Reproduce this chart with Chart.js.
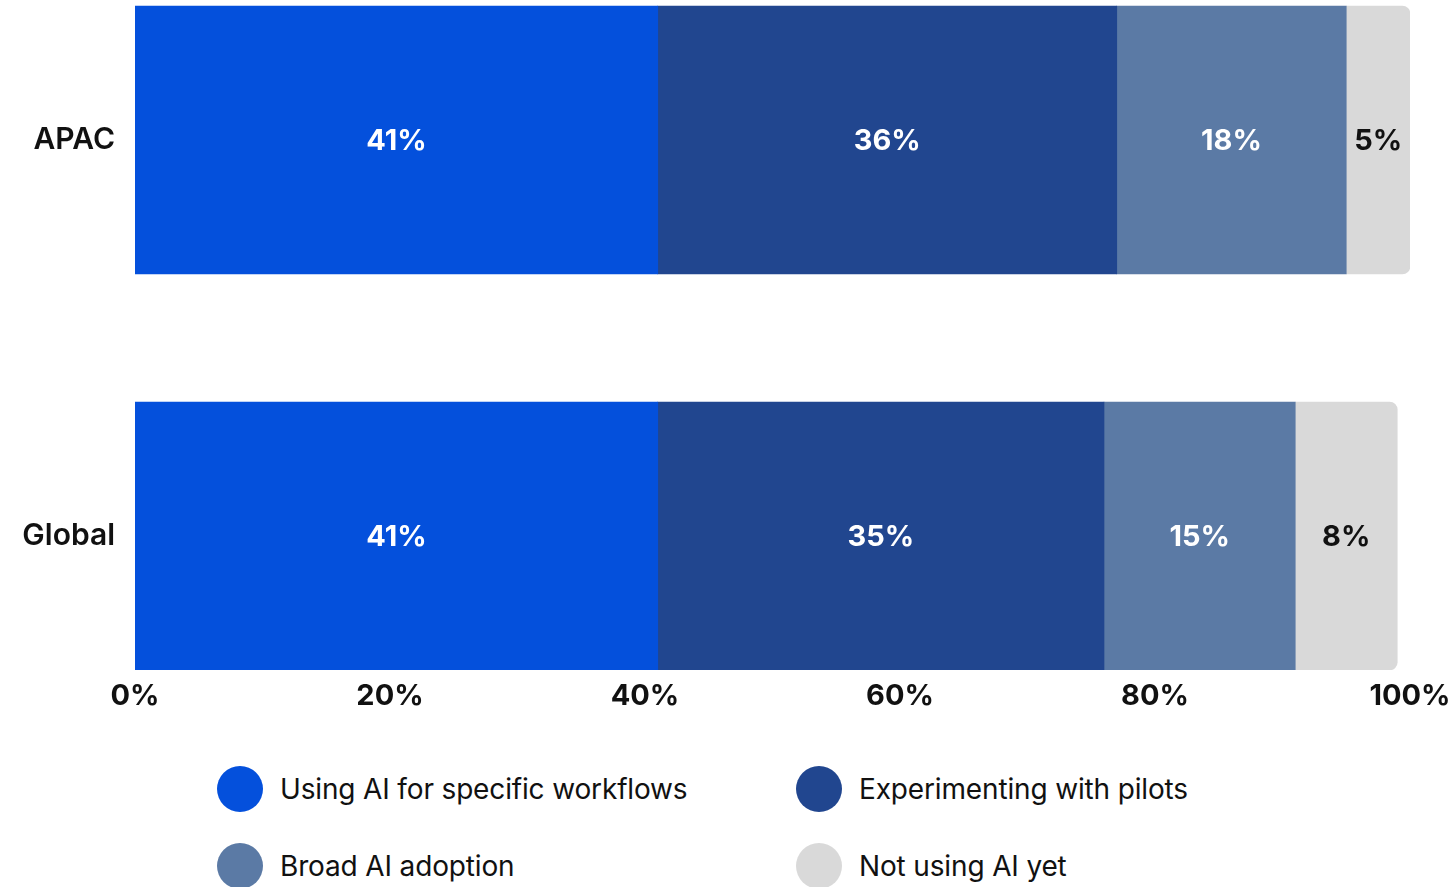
<!DOCTYPE html>
<html>
<head>
<meta charset="utf-8">
<script src="https://cdn.jsdelivr.net/npm/chart.js@4"></script>
<style>
  html, body { margin: 0; padding: 0; background: #fff; overflow: hidden; }
  #wrap { position: relative; width: 1449px; height: 740px; }
  #legend { position: absolute; left: 217px; top: 766px; display: grid; grid-template-columns: 579px 579px; row-gap: 31px; font-family: Inter, sans-serif; font-size: 28px; letter-spacing: -0.15px; color: #111; }
  .item { display: flex; align-items: center; height: 46px; }
  .dot { width: 46px; height: 46px; border-radius: 50%; margin-right: 17px; flex: none; }
</style>
</head>
<body>
<div id="wrap"><canvas id="chart"></canvas></div>
<div id="legend"></div>
<script>
const regions = ["APAC", "Global"];
const seriesNames = ["Using AI for specific workflows", "Experimenting with pilots", "Broad AI adoption", "Not using AI yet"];
const specificWorkflows = [41, 41];
const pilots = [36, 35];
const broadAdoption = [18, 15];
const notUsing = [5, 8];
const xTicks = [0, 20, 40, 60, 80, 100];

const colors = ["#0450DC", "#21468F", "#5B7AA5", "#D9D9D9"];
const labelColors = ["#fff", "#fff", "#fff", "#111"];
const seriesValues = [specificWorkflows, pilots, broadAdoption, notUsing];

// bar centres at 140px and 536px, chart area 0..670px
const Y_MIN = -140 / 396;
const Y_MAX = 1 + 134 / 396;

const barLabels = {
  id: "barLabels",
  afterDatasetsDraw(chart) {
    const ctx = chart.ctx;
    ctx.save();
    ctx.font = "700 29px Inter";
    ctx.textAlign = "center";
    ctx.textBaseline = "middle";
    chart.data.datasets.forEach((ds, i) => {
      chart.getDatasetMeta(i).data.forEach((bar, j) => {
        const p = bar.getCenterPoint();
        ctx.fillStyle = labelColors[i];
        ctx.fillText(ds.data[j].x + "%", p.x, p.y + 1);
      });
    });
    ctx.restore();
  }
};

new Chart(document.getElementById("chart"), {
  type: "bar",
  data: {
    datasets: seriesNames.map((name, i) => ({
      label: name,
      data: seriesValues[i].map((v, j) => ({ x: v, y: j })),
      backgroundColor: colors[i],
      borderWidth: 0,
      borderRadius: i === seriesNames.length - 1 ? 8 : 0,
      borderSkipped: "start",
      barThickness: 268
    }))
  },
  options: {
    indexAxis: "y",
    responsive: true,
    maintainAspectRatio: false,
    animation: false,
    layout: { padding: { top: 0, right: 39, left: 0, bottom: 0 } },
    plugins: { legend: { display: false }, tooltip: { enabled: false } },
    scales: {
      x: {
        type: "linear",
        stacked: true,
        min: 0,
        max: 100,
        grid: { display: false, drawTicks: false },
        border: { display: false },
        afterBuildTicks: s => { s.ticks = xTicks.map(v => ({ value: v })); },
        afterFit: s => { s.height = 70; s.paddingLeft = 0; s.paddingRight = 39; },
        ticks: { color: "#111", padding: 9, font: { family: "Inter", size: 29, weight: "700" }, callback: v => v + "%" }
      },
      y: {
        type: "linear",
        stacked: true,
        reverse: true,
        offset: false,
        min: Y_MIN,
        max: Y_MAX,
        grid: { display: false, drawTicks: false, offset: false },
        border: { display: false },
        afterBuildTicks: s => { s.ticks = regions.map((r, i) => ({ value: i })); },
        afterFit: s => { s.width = 135; s.paddingTop = 0; s.paddingBottom = 0; },
        ticks: { color: "#111", padding: 20, font: { family: "Inter", size: 30, weight: "600" }, callback: v => regions[v] }
      }
    }
  },
  plugins: [barLabels]
});

const legend = document.getElementById("legend");
seriesNames.forEach((name, i) => {
  const item = document.createElement("div");
  item.className = "item";
  item.innerHTML = `<span class="dot" style="background:${colors[i]}"></span><span>${name}</span>`;
  legend.appendChild(item);
});
</script>
</body>
</html>
